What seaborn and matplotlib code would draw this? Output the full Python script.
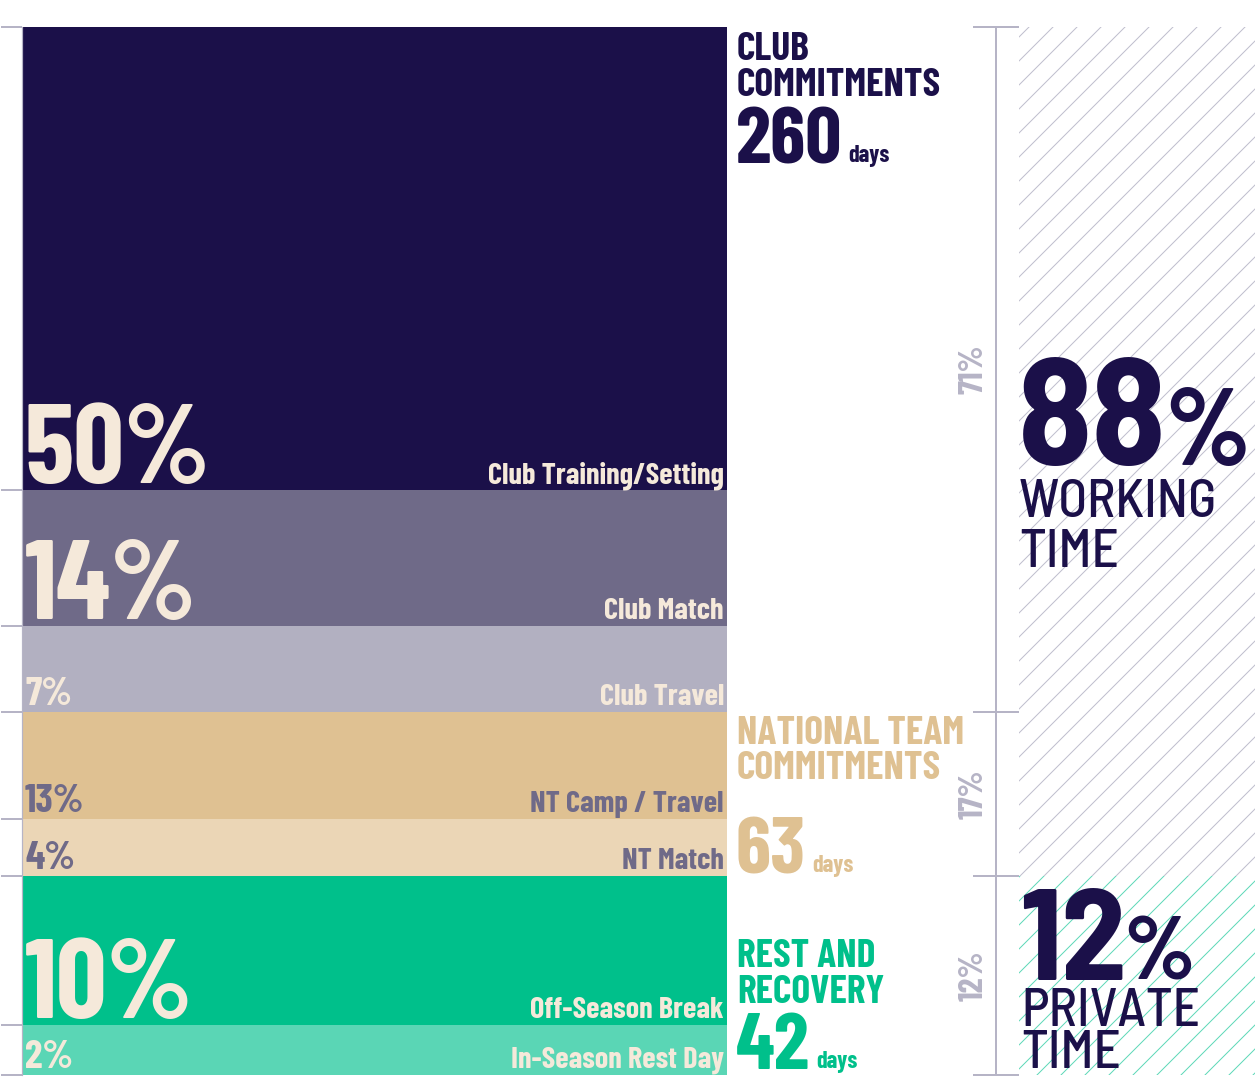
import matplotlib
matplotlib.use("Agg")
import numpy as np
import matplotlib.pyplot as plt
import matplotlib.transforms as mtransforms
from matplotlib import font_manager as fm
import seaborn as sns

# ---------------- data ----------------
segments = ["Club Training/Setting", "Club Match", "Club Travel",
            "NT Camp / Travel", "NT Match", "Off-Season Break", "In-Season Rest Day"]
segment_pct_labels = ["50%", "14%", "7%", "13%", "4%", "10%", "2%"]
segment_heights = [44.2, 13.0, 8.2, 10.2, 5.4, 14.2, 4.8]   # displayed share of bar
segment_colors = ["#1b1049", "#6f6a88", "#b2b0c1", "#dfc192", "#ebd6b6", "#00c08b", "#5ad6b5"]
segment_big = [True, True, False, False, False, True, False]
segment_text_colors = ["#f5e9da", "#f5e9da", "#f5e9da", "#6f6a88", "#6f6a88", "#f5e9da", "#f5e9da"]

group_titles = ["CLUB\nCOMMITMENTS", "NATIONAL TEAM\nCOMMITMENTS", "REST AND\nRECOVERY"]
group_days = [260, 63, 42]
group_pct = ["71%", "17%", "12%"]
group_sizes = [3, 2, 2]
group_colors = ["#1b1049", "#dfc192", "#00c08b"]

total_pct = ["88", "12"]
total_labels = ["WORKING\nTIME", "PRIVATE\nTIME"]
total_group_sizes = [2, 1]
total_hatch_colors = ["#bfbecd", "#5ed8b8"]

# ---------------- style ----------------
sns.set_theme(style="white")
avail = {f.name for f in fm.fontManager.ttflist}
def pick(*names):
    for n in names:
        if n in avail:
            return n
    return "DejaVu Sans"
COND = pick("Barlow Condensed", "Roboto Condensed", "Oswald", "IBM Plex Sans Condensed")
DIN = pick("Barlow Semi Condensed", "Barlow", "Roboto Condensed", "Roboto")
plt.rcParams["font.family"] = [COND, "DejaVu Sans"]
plt.rcParams["hatch.linewidth"] = 0.5

W, H, DPI = 1255, 1079, 144
fig = plt.figure(figsize=(W / DPI, H / DPI), dpi=DPI)
fig.patch.set_facecolor("white")

def fx(px):
    return px / W
def fy(py):
    return 1 - py / H

TOP, BOT = 27, 1075
GRAY = "#b6b4c6"

# ---------------- stacked bar ----------------
ax = fig.add_axes([fx(22), fy(BOT), fx(727) - fx(22), fy(TOP) - fy(BOT)])
bottoms = np.concatenate([[0], np.cumsum(segment_heights)[:-1]])
for h, b, c in zip(segment_heights, bottoms, segment_colors):
    sns.barplot(x=[0], y=[h], bottom=b, color=c, saturation=1, width=1.0,
                linewidth=0, ax=ax)
total = float(np.sum(segment_heights))
ax.set_xlim(-0.5, 0.5)
ax.set_ylim(total, 0)
ax.set_xticks([])
ax.set_xlabel("")
ax.set_ylabel("")
ax.set_yticks(np.concatenate([[0], np.cumsum(segment_heights)]))
ax.set_yticklabels([])
ax.tick_params(axis="y", direction="out", length=10.5, width=1.0, color=GRAY, left=True)
for s in ["top", "right", "bottom"]:
    ax.spines[s].set_visible(False)
ax.spines["left"].set_color(GRAY)
ax.spines["left"].set_linewidth(0.6)

ends = np.cumsum(segment_heights)
for name, pl, e, big, tc in zip(segments, segment_pct_labels, ends, segment_big, segment_text_colors):
    ax.annotate(pl, xy=(-0.5, e), xytext=(1.5, 3.5), textcoords="offset points",
                ha="left", va="baseline", color=tc, fontweight="bold",
                fontsize=56 if big else 20)
    ax.annotate(name, xy=(0.5, e), xytext=(-1.5, 3.5), textcoords="offset points",
                ha="right", va="baseline", color=tc, fontweight="bold", fontsize=15.2)

# ---------------- hatched totals + bracket ----------------
axr = fig.add_axes([fx(1019), fy(BOT), 1 - fx(1019), fy(TOP) - fy(BOT)])
gidx = np.cumsum([0] + group_sizes)
group_heights = [float(np.sum(segment_heights[gidx[i]:gidx[i + 1]])) for i in range(len(group_sizes))]
tidx = np.cumsum([0] + total_group_sizes)
total_heights = [float(np.sum(group_heights[tidx[i]:tidx[i + 1]])) for i in range(len(total_group_sizes))]
total_bottoms = np.concatenate([[0], np.cumsum(total_heights)[:-1]])
for h, b in zip(total_heights, total_bottoms):
    sns.barplot(x=[0], y=[h], bottom=b, color="white", saturation=1, width=1.0,
                linewidth=0, hatch="//", ax=axr)
for p, hc in zip(axr.patches, total_hatch_colors):
    p.set_edgecolor(hc)
    p.set_linewidth(0)
axr.set_xlim(-0.5, 0.5)
axr.set_ylim(total, 0)
axr.set_xticks([])
axr.set_xlabel("")
axr.set_ylabel("")
axr.set_yticks(np.concatenate([[0], np.cumsum(group_heights)]))
axr.set_yticklabels([])
axr.tick_params(axis="y", direction="inout", length=23, width=1.0, color=GRAY, left=True)
for s in ["top", "right", "bottom"]:
    axr.spines[s].set_visible(False)
axr.spines["left"].set_position(("outward", 11.5))
axr.spines["left"].set_color(GRAY)
axr.spines["left"].set_linewidth(1.0)
axr.patch.set_alpha(0)

# rotated group percentages
gends = np.cumsum(group_heights)
gstarts = gends - np.array(group_heights)
tr = mtransforms.blended_transform_factory(fig.transFigure, axr.transData)
for pct, s, e in zip(group_pct, gstarts, gends):
    axr.text(fx(974), (s + e) / 2, pct, transform=tr, rotation=90, ha="center", va="center",
             color=GRAY, fontweight="bold", fontsize=17, clip_on=False)

fig.canvas.draw()
renderer = fig.canvas.get_renderer()

# ---------------- group titles ----------------
title_baselines = [(60, 96), (744, 779), (967, 1003)]
days_baselines = [163, 873, 1069]
for t, d, c, tb, db in zip(group_titles, group_days, group_colors,
                           title_baselines, days_baselines):
    l1, l2 = t.split("\n")
    fig.text(fx(737), fy(tb[0]), l1, ha="left", va="baseline", color=c,
             fontweight="bold", fontsize=19.8)
    fig.text(fx(737), fy(tb[1]), l2, ha="left", va="baseline", color=c,
             fontweight="bold", fontsize=19.8)
    nt = fig.text(fx(736), fy(db), str(d), ha="left", va="baseline", color=c,
                  fontweight="bold", fontsize=40)
    bb = nt.get_window_extent(renderer)
    fig.text((bb.x1 + 6) / W, fy(db - 1), "days", ha="left", va="baseline", color=c,
             fontweight="bold", fontsize=12)

# ---------------- totals text ----------------
NAVY = "#1b1049"
big_specs = [dict(x=1018, base=465, fs=76, pfs=54, l1=517, l2=567),
             dict(x=1020, base=980, fs=65, pfs=45, l1=1026, l2=1068)]
for num, lab, sp in zip(total_pct, total_labels, big_specs):
    t = fig.text(fx(sp["x"]), fy(sp["base"]), num, ha="left", va="baseline", color=NAVY,
                 fontweight="bold", fontsize=sp["fs"], family=[DIN, COND, "DejaVu Sans"])
    bb = t.get_window_extent(renderer)
    fig.text((bb.x1 - 3) / W, fy(sp["base"]), "%", ha="left", va="baseline", color=NAVY,
             fontweight="bold", fontsize=sp["pfs"], family=[DIN, COND, "DejaVu Sans"])
    a, b2 = lab.split("\n")
    fig.text(fx(sp["x"] + 1), fy(sp["l1"]), a, ha="left", va="baseline", color=NAVY,
             fontweight="medium", fontsize=26.5, family=[DIN, COND, "DejaVu Sans"])
    fig.text(fx(sp["x"] + 1), fy(sp["l2"]), b2, ha="left", va="baseline", color=NAVY,
             fontweight="medium", fontsize=26.5, family=[DIN, COND, "DejaVu Sans"])

fig.savefig("out.png", dpi=DPI)
